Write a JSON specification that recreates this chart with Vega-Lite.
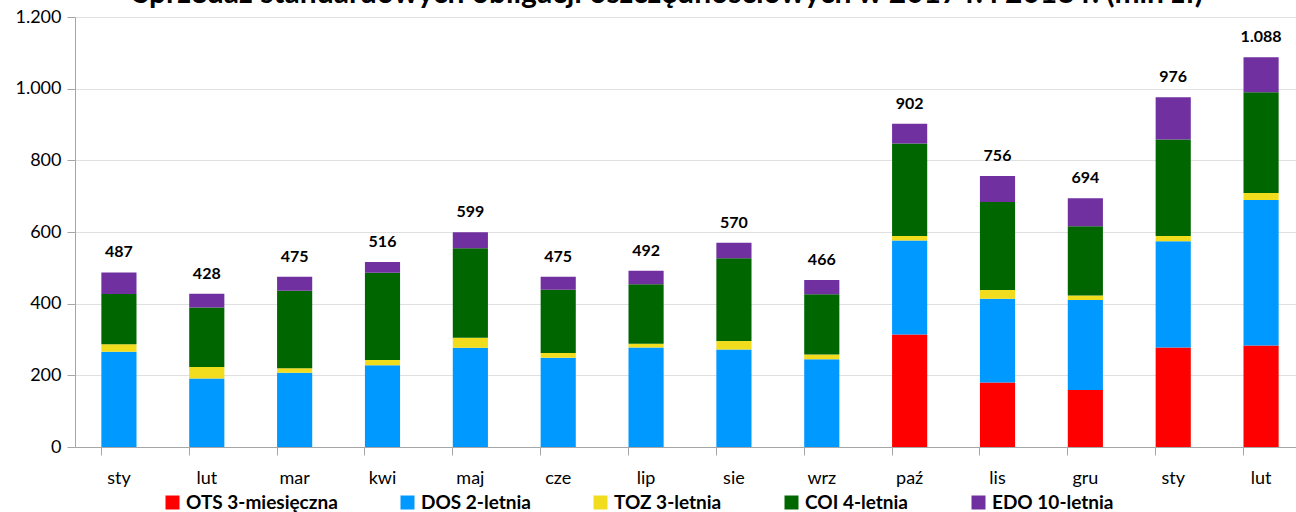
{
  "$schema": "https://vega.github.io/schema/vega-lite/v6.json",
  "width": 1230,
  "height": 430,
  "autosize": {"type": "pad"},
  "padding": {"left": 14, "top": -21, "right": 0, "bottom": 0},
  "title": {
    "text": "Sprzedaż standardowych obligacji oszczędnościowych w 2017 r. i 2018 r. (mln zł)",
    "fontSize": 30,
    "font": "Lato",
    "fontWeight": "bold",
    "color": "#000000",
    "anchor": "middle",
    "dx": -22,
    "offset": -1
  },
  "config": {
    "locale": {"number": {"decimal": ",", "thousands": ".", "grouping": [3], "currency": ["", " zł"]}},
    "view": {"stroke": null},
    "font": "Lato"
  },
  "datasets": {
    "series": [
      {"s": "OTS 3-miesięczna", "o": 1},
      {"s": "DOS 2-letnia", "o": 2},
      {"s": "TOZ 3-letnia", "o": 3},
      {"s": "COI 4-letnia", "o": 4},
      {"s": "EDO 10-letnia", "o": 5}
    ],
    "sales": [
      {"m": "sty 2017", "s": "DOS 2-letnia", "v": 266},
      {"m": "sty 2017", "s": "TOZ 3-letnia", "v": 21},
      {"m": "sty 2017", "s": "COI 4-letnia", "v": 140},
      {"m": "sty 2017", "s": "EDO 10-letnia", "v": 60},
      {"m": "lut 2017", "s": "DOS 2-letnia", "v": 191},
      {"m": "lut 2017", "s": "TOZ 3-letnia", "v": 32},
      {"m": "lut 2017", "s": "COI 4-letnia", "v": 166},
      {"m": "lut 2017", "s": "EDO 10-letnia", "v": 39},
      {"m": "mar 2017", "s": "DOS 2-letnia", "v": 207},
      {"m": "mar 2017", "s": "TOZ 3-letnia", "v": 13},
      {"m": "mar 2017", "s": "COI 4-letnia", "v": 216},
      {"m": "mar 2017", "s": "EDO 10-letnia", "v": 39},
      {"m": "kwi 2017", "s": "DOS 2-letnia", "v": 228},
      {"m": "kwi 2017", "s": "TOZ 3-letnia", "v": 15},
      {"m": "kwi 2017", "s": "COI 4-letnia", "v": 243},
      {"m": "kwi 2017", "s": "EDO 10-letnia", "v": 30},
      {"m": "maj 2017", "s": "DOS 2-letnia", "v": 277},
      {"m": "maj 2017", "s": "TOZ 3-letnia", "v": 28},
      {"m": "maj 2017", "s": "COI 4-letnia", "v": 250},
      {"m": "maj 2017", "s": "EDO 10-letnia", "v": 44},
      {"m": "cze 2017", "s": "DOS 2-letnia", "v": 249},
      {"m": "cze 2017", "s": "TOZ 3-letnia", "v": 13},
      {"m": "cze 2017", "s": "COI 4-letnia", "v": 177},
      {"m": "cze 2017", "s": "EDO 10-letnia", "v": 36},
      {"m": "lip 2017", "s": "DOS 2-letnia", "v": 278},
      {"m": "lip 2017", "s": "TOZ 3-letnia", "v": 10},
      {"m": "lip 2017", "s": "COI 4-letnia", "v": 166},
      {"m": "lip 2017", "s": "EDO 10-letnia", "v": 38},
      {"m": "sie 2017", "s": "DOS 2-letnia", "v": 272},
      {"m": "sie 2017", "s": "TOZ 3-letnia", "v": 24},
      {"m": "sie 2017", "s": "COI 4-letnia", "v": 231},
      {"m": "sie 2017", "s": "EDO 10-letnia", "v": 43},
      {"m": "wrz 2017", "s": "DOS 2-letnia", "v": 245},
      {"m": "wrz 2017", "s": "TOZ 3-letnia", "v": 13},
      {"m": "wrz 2017", "s": "COI 4-letnia", "v": 168},
      {"m": "wrz 2017", "s": "EDO 10-letnia", "v": 40},
      {"m": "paź 2017", "s": "OTS 3-miesięczna", "v": 314},
      {"m": "paź 2017", "s": "DOS 2-letnia", "v": 262},
      {"m": "paź 2017", "s": "TOZ 3-letnia", "v": 13},
      {"m": "paź 2017", "s": "COI 4-letnia", "v": 258},
      {"m": "paź 2017", "s": "EDO 10-letnia", "v": 55},
      {"m": "lis 2017", "s": "OTS 3-miesięczna", "v": 180},
      {"m": "lis 2017", "s": "DOS 2-letnia", "v": 234},
      {"m": "lis 2017", "s": "TOZ 3-letnia", "v": 24},
      {"m": "lis 2017", "s": "COI 4-letnia", "v": 246},
      {"m": "lis 2017", "s": "EDO 10-letnia", "v": 72},
      {"m": "gru 2017", "s": "OTS 3-miesięczna", "v": 159},
      {"m": "gru 2017", "s": "DOS 2-letnia", "v": 251},
      {"m": "gru 2017", "s": "TOZ 3-letnia", "v": 13},
      {"m": "gru 2017", "s": "COI 4-letnia", "v": 193},
      {"m": "gru 2017", "s": "EDO 10-letnia", "v": 78},
      {"m": "sty 2018", "s": "OTS 3-miesięczna", "v": 278},
      {"m": "sty 2018", "s": "DOS 2-letnia", "v": 296},
      {"m": "sty 2018", "s": "TOZ 3-letnia", "v": 15},
      {"m": "sty 2018", "s": "COI 4-letnia", "v": 269},
      {"m": "sty 2018", "s": "EDO 10-letnia", "v": 118},
      {"m": "lut 2018", "s": "OTS 3-miesięczna", "v": 283},
      {"m": "lut 2018", "s": "DOS 2-letnia", "v": 406},
      {"m": "lut 2018", "s": "TOZ 3-letnia", "v": 20},
      {"m": "lut 2018", "s": "COI 4-letnia", "v": 281},
      {"m": "lut 2018", "s": "EDO 10-letnia", "v": 98}
    ]
  },
  "data": {"name": "sales"},
  "encoding": {
    "x": {
      "field": "m",
      "type": "nominal",
      "sort": null,
      "scale": {"paddingInner": 0.6, "paddingOuter": 0.3},
      "axis": {
        "title": null,
        "labelAngle": 0,
        "labelExpr": "split(datum.label, ' ')[0]",
        "labelFontSize": 18,
        "labelColor": "#000000",
        "labelPadding": 14,
        "bandPosition": 0,
        "tickSize": 8,
        "tickColor": "#a6a6a6",
        "domainColor": "#a6a6a6",
        "grid": false
      }
    }
  },
  "layer": [
    {
      "transform": [
        {"lookup": "s", "from": {"data": {"name": "series"}, "key": "s", "fields": ["o"]}}
      ],
      "mark": {"type": "bar"},
      "encoding": {
        "y": {
          "field": "v",
          "type": "quantitative",
          "aggregate": "sum",
          "stack": "zero",
          "scale": {"domain": [0, 1200]},
          "axis": {
            "title": null,
            "values": [0, 200, 400, 600, 800, 1000, 1200],
            "format": ",d",
            "labelFontSize": 18,
            "labelColor": "#000000",
            "labelPadding": 6,
            "tickSize": 8,
            "tickColor": "#a6a6a6",
            "domainColor": "#a6a6a6",
            "gridColor": "#e0e0e0"
          }
        },
        "color": {
          "field": "s",
          "type": "nominal",
          "sort": ["OTS 3-miesięczna", "DOS 2-letnia", "TOZ 3-letnia", "COI 4-letnia", "EDO 10-letnia"],
          "scale": {
            "domain": ["OTS 3-miesięczna", "DOS 2-letnia", "TOZ 3-letnia", "COI 4-letnia", "EDO 10-letnia"],
            "range": ["#ff0000", "#0099ff", "#f2dc1e", "#006600", "#7030a0"]
          },
          "legend": {
            "title": null,
            "orient": "none",
            "legendX": 88,
            "legendY": 476,
            "direction": "horizontal",
            "columns": 5,
            "gridAlign": "none",
            "columnPadding": 60,
            "symbolType": "square",
            "symbolSize": 196,
            "symbolStrokeWidth": 0,
            "labelOffset": 4,
            "labelFontSize": 19,
            "labelFontWeight": "bold",
            "labelColor": "#000000",
            "labelLimit": 300,
            "padding": 0
          }
        },
        "order": {"field": "o", "type": "quantitative", "sort": "ascending"}
      }
    },
    {
      "transform": [{"aggregate": [{"op": "sum", "field": "v", "as": "total"}], "groupby": ["m"]}],
      "mark": {"type": "text", "baseline": "bottom", "dy": -12, "fontSize": 16, "fontWeight": "bold", "color": "#000000"},
      "encoding": {
        "y": {"field": "total", "type": "quantitative"},
        "text": {"field": "total", "type": "quantitative", "format": ",d"}
      }
    }
  ]
}
